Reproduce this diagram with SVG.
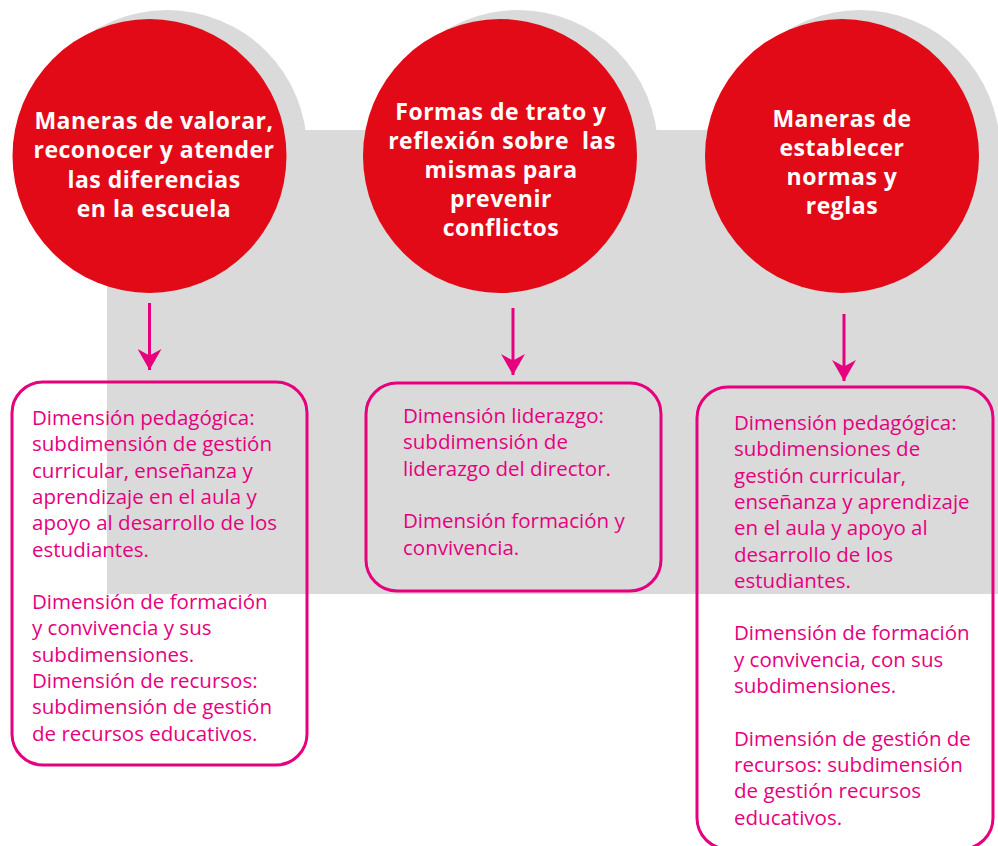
<svg xmlns="http://www.w3.org/2000/svg" width="998" height="846" viewBox="0 0 998 846">
<defs>
<style>
.bg{fill:#dadada}
.circ{fill:#e20a17}
.title{font-family:"Open Sans","Noto Sans",sans-serif;font-weight:700;font-size:23px;letter-spacing:0.5px;fill:#ffffff;text-anchor:middle}
.box{fill:none;stroke:#e6007e;stroke-width:3}
.body{font-family:"Open Sans","Noto Sans",sans-serif;font-size:20.5px;fill:#e6007e}
.conn{stroke:#e6007e;stroke-width:3;fill:none}
</style>
<marker id="ah" markerUnits="userSpaceOnUse" markerWidth="26" markerHeight="24" refX="22" refY="12.5" orient="auto" viewBox="0 0 26 25">
<path d="M0,0 L22,12.5 L0,25 L7,12.5 Z" fill="#e6007e"/>
</marker>
</defs>
<g id="background">
<rect class="bg" x="107" y="130" width="891" height="464"/>
<circle class="bg" cx="167" cy="150" r="140"/>
<circle class="bg" cx="518" cy="150" r="140"/>
<circle class="bg" cx="860" cy="150" r="140"/>
</g>
<g id="node-c1">
<circle class="circ" cx="149.5" cy="156" r="137"/>
<text class="title"><tspan x="154" y="129">Maneras de valorar,</tspan><tspan x="154" y="158">reconocer y atender</tspan><tspan x="154" y="188">las diferencias</tspan><tspan x="154" y="217">en la escuela</tspan></text>
</g>
<g id="node-c2">
<circle class="circ" cx="500" cy="156" r="137"/>
<text class="title"><tspan x="501" y="120">Formas de trato y</tspan><tspan x="502" y="149">reflexión sobre&#160; las</tspan><tspan x="501" y="178">mismas para</tspan><tspan x="501" y="207">prevenir</tspan><tspan x="501" y="236">conflictos</tspan></text>
</g>
<g id="node-c3">
<circle class="circ" cx="842" cy="156" r="137"/>
<text class="title"><tspan x="842" y="127">Maneras de</tspan><tspan x="842" y="156">establecer</tspan><tspan x="842" y="185">normas y</tspan><tspan x="842" y="214">reglas</tspan></text>
</g>
<g id="connectors">
<line class="conn" x1="149.5" y1="303" x2="149.5" y2="370" marker-end="url(#ah)"/>
<line class="conn" x1="513" y1="308" x2="513" y2="375" marker-end="url(#ah)"/>
<line class="conn" x1="844" y1="314" x2="844" y2="381" marker-end="url(#ah)"/>
</g>
<g id="node-b1">
<rect class="box" x="12" y="382" width="295" height="383" rx="31"/>
<text class="body"><tspan x="32" y="425">Dimensión pedagógica:</tspan><tspan x="32" y="451.3">subdimensión de gestión</tspan><tspan x="32" y="477.6">curricular, enseñanza y</tspan><tspan x="32" y="503.9">aprendizaje en el aula y</tspan><tspan x="32" y="530.2">apoyo al desarrollo de los</tspan><tspan x="32" y="556.5">estudiantes.</tspan><tspan x="32" y="609.1">Dimensión de formación</tspan><tspan x="32" y="635.4">y convivencia y sus</tspan><tspan x="32" y="661.7">subdimensiones.</tspan><tspan x="32" y="688">Dimensión de recursos:</tspan><tspan x="32" y="714.3">subdimensión de gestión</tspan><tspan x="32" y="740.6">de recursos educativos.</tspan></text>
</g>
<g id="node-b2">
<rect class="box" x="366" y="383" width="295" height="208" rx="31"/>
<text class="body"><tspan x="403" y="423">Dimensión liderazgo:</tspan><tspan x="403" y="449.3">subdimensión de</tspan><tspan x="403" y="475.6">liderazgo del director.</tspan><tspan x="403" y="528.2">Dimensión formación y</tspan><tspan x="403" y="554.5">convivencia.</tspan></text>
</g>
<g id="node-b3">
<rect class="box" x="697" y="387" width="296" height="462" rx="31"/>
<text class="body"><tspan x="734" y="430">Dimensión pedagógica:</tspan><tspan x="734" y="456.3">subdimensiones de</tspan><tspan x="734" y="482.6">gestión curricular,</tspan><tspan x="734" y="508.9">enseñanza y aprendizaje</tspan><tspan x="734" y="535.2">en el aula y apoyo al</tspan><tspan x="734" y="561.5">desarrollo de los</tspan><tspan x="734" y="587.8">estudiantes.</tspan><tspan x="734" y="640.4">Dimensión de formación</tspan><tspan x="734" y="666.7">y convivencia, con sus</tspan><tspan x="734" y="693">subdimensiones.</tspan><tspan x="734" y="745.6">Dimensión de gestión de</tspan><tspan x="734" y="771.9">recursos: subdimensión</tspan><tspan x="734" y="798.2">de gestión recursos</tspan><tspan x="734" y="824.5">educativos.</tspan></text>
</g>
</svg>
